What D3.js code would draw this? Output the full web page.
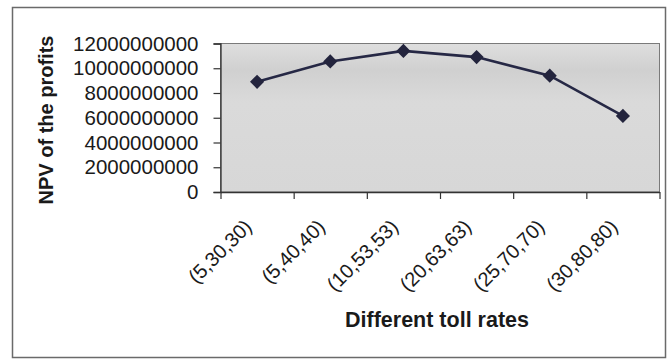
<!DOCTYPE html>
<html lang="en">
<head>
  <meta charset="utf-8">
  <title>NPV of the profits</title>
  <script src="https://d3js.org/d3.v7.min.js"></script>
  <style>
    body { margin: 0; background: #fff; }
    #chart text { font-family: "Liberation Sans", Arial, sans-serif; fill: #1a1a1a; }
  </style>
</head>
<body>
  <div id="chart"></div>
  <script>
    "use strict"

    // data
    var tollRates = ["(5,30,30)", "(5,40,40)", "(10,53,53)", "(20,63,63)", "(25,70,70)", "(30,80,80)"];
    var npvValues = [8900000000, 10550000000, 11400000000, 10900000000, 9400000000, 6150000000];
    var yTicks = [0, 2000000000, 4000000000, 6000000000, 8000000000, 10000000000, 12000000000];

    var larguraSVG = 667, alturaSVG = 360;
    var plot = { left: 220.5, right: 659.5, top: 43.5, bottom: 192 };

    var svg = d3.select('#chart').append('svg')
      .attr('width', larguraSVG)
      .attr('height', alturaSVG);

    // outer frame
    svg.append('rect')
      .attr('x', 12.5).attr('y', 7.5)
      .attr('width', 653).attr('height', 350)
      .attr('fill', 'none')
      .attr('stroke', '#6a6a6a')
      .attr('stroke-width', 1.5);

    var x = d3.scaleBand()
      .domain(tollRates)
      .range([plot.left, plot.right]);

    // boundaries between categories, for the tick marks
    var xEdge = d3.scaleLinear()
      .domain([0, tollRates.length])
      .range([plot.left, plot.right]);

    var y = d3.scaleLinear()
      .domain([0, 12000000000])
      .range([plot.bottom, plot.top]);

    // plot background
    var grad = svg.append('defs').append('linearGradient')
      .attr('id', 'bg').attr('x1', 0).attr('y1', 0).attr('x2', 0).attr('y2', 1);
    grad.append('stop').attr('offset', '0%').attr('stop-color', '#dedede');
    grad.append('stop').attr('offset', '18%').attr('stop-color', '#d0d0d0');
    grad.append('stop').attr('offset', '40%').attr('stop-color', '#dadada');
    grad.append('stop').attr('offset', '100%').attr('stop-color', '#d7d7d7');

    svg.append('rect')
      .attr('x', plot.left).attr('y', plot.top)
      .attr('width', plot.right - plot.left)
      .attr('height', plot.bottom - plot.top)
      .attr('fill', 'url(#bg)')
      .attr('stroke', '#7a7a7a')
      .attr('stroke-width', 1);

    // y axis
    var yAxis = svg.append('g')
      .attr('transform', 'translate(' + plot.left + ',0)')
      .call(d3.axisLeft(y).tickValues(yTicks).tickFormat(d3.format('d')).tickSize(7).tickPadding(15));
    yAxis.select('.domain').attr('stroke', '#333').attr('stroke-width', 1.3);
    yAxis.selectAll('.tick line').attr('stroke', '#333').attr('stroke-width', 1.2);
    yAxis.selectAll('.tick text')
      .style('font-size', '20.5px')
      .attr('fill', '#1a1a1a');

    // x axis (tick marks at category edges)
    var xAxis = svg.append('g')
      .attr('transform', 'translate(0,' + plot.bottom + ')')
      .call(d3.axisBottom(xEdge).tickValues(d3.range(tollRates.length + 1)).tickFormat('').tickSize(7).tickSizeOuter(0));
    xAxis.select('.domain').attr('stroke', '#333').attr('stroke-width', 1.3);
    xAxis.selectAll('.tick line').attr('stroke', '#333').attr('stroke-width', 1.2);

    // x labels, rotated
    svg.append('g').selectAll('text')
      .data(tollRates)
      .enter()
      .append('text')
        .attr('transform', function(d) {
          return 'translate(' + (x(d) + x.bandwidth() / 2 - 4) + ',' + (plot.bottom + 36) + ') rotate(-45)';
        })
        .attr('text-anchor', 'end')
        .style('font-size', '20px')
        .text(function(d) { return d; });

    // the line
    var linha = d3.line()
      .x(function(d, i) { return x(tollRates[i]) + x.bandwidth() / 2; })
      .y(function(d) { return y(d); });

    svg.append('path')
      .datum(npvValues)
      .attr('d', linha)
      .attr('fill', 'none')
      .attr('stroke', '#262845')
      .attr('stroke-width', 2.6);

    svg.append('g').selectAll('path')
      .data(npvValues)
      .enter()
      .append('path')
        .attr('d', d3.symbol().type(d3.symbolSquare).size(100))
        .attr('transform', function(d, i) {
          return 'translate(' + (x(tollRates[i]) + x.bandwidth() / 2) + ',' + y(d) + ') rotate(45)';
        })
        .attr('fill', '#23243d');

    // axis titles
    svg.append('text')
      .attr('transform', 'translate(53,120) rotate(-90)')
      .attr('text-anchor', 'middle')
      .style('font-size', '20px')
      .style('font-weight', 'bold')
      .text('NPV of the profits');

    svg.append('text')
      .attr('x', 437)
      .attr('y', 327)
      .attr('text-anchor', 'middle')
      .style('font-size', '21.5px')
      .style('font-weight', 'bold')
      .text('Different toll rates');
  </script>
</body>
</html>
